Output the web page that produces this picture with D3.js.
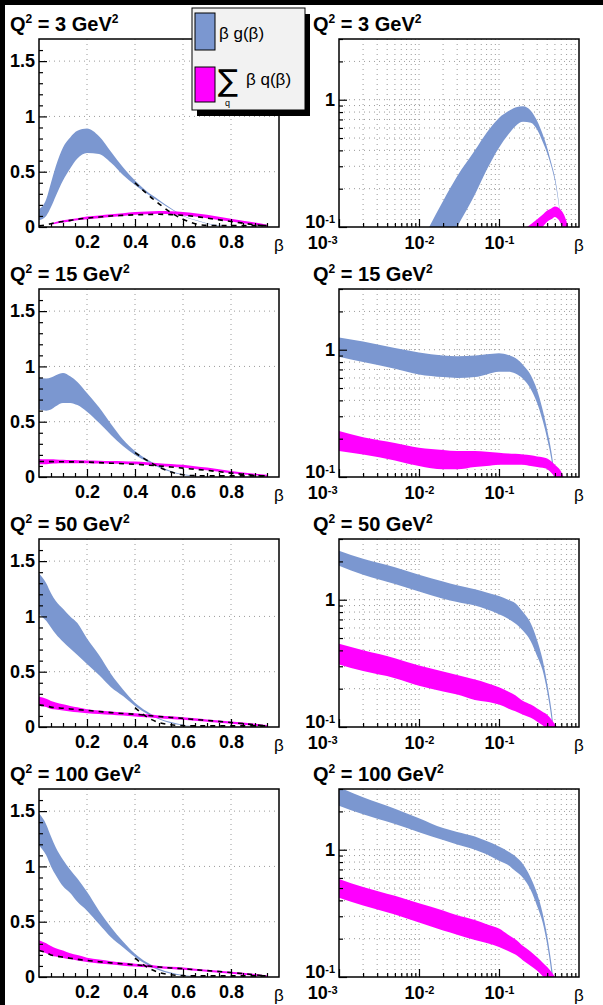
<!DOCTYPE html>
<html>
<head>
<meta charset="utf-8">
<script src="https://cdn.jsdelivr.net/npm/d3@7/dist/d3.min.js"></script>
<style>
html,body{margin:0;padding:0;background:#000;}
svg{display:block;}
</style>
</head>
<body>
<svg id="chart" width="603" height="1005"></svg>
<script>
// ---------------- DATA ----------------
const betaGrid = [0.001,0.002,0.005,0.01,0.02,0.03,0.05,0.07,0.1,0.13,0.16,0.2,0.25,0.3,0.35,0.4,0.45,0.5,0.55,0.6,0.65,0.7,0.8,0.9,0.95];
const q2Labels = ["3","15","50","100"];

const gluonLoQ3 = [null,null,null,0.02,0.06,0.10,0.18,0.28,0.42,0.53,0.62,0.67,0.66,0.58,0.47,0.38,0.30,0.23,0.16,0.10,0.06,0.03,0.005,0.001,null];
const gluonHiQ3 = [null,null,null,0.07,0.16,0.25,0.40,0.55,0.72,0.81,0.87,0.89,0.82,0.68,0.54,0.42,0.32,0.245,0.17,0.105,0.065,0.035,0.008,0.002,null];
const quarkLoQ3 = [null,null,null,null,null,null,0.02,0.03,0.04,0.05,0.06,0.07,0.08,0.09,0.10,0.11,0.115,0.12,0.115,0.105,0.095,0.08,0.05,0.02,0.005];
const quarkHiQ3 = [null,null,null,null,null,null,0.03,0.045,0.06,0.07,0.08,0.095,0.105,0.115,0.125,0.135,0.14,0.145,0.142,0.135,0.125,0.11,0.075,0.04,0.02];
const fitGluonQ3 = [null,null,null,null,null,null,null,null,null,null,null,null,null,null,null,0.40,0.30,0.21,0.13,0.07,0.03,0.015,0.012,0.012,0.012];
const fitQuarkQ3 = [null,null,null,null,0.01,0.02,0.03,0.04,0.05,0.06,0.07,0.08,0.09,0.10,0.105,0.11,0.113,0.115,0.112,0.105,0.095,0.08,0.05,0.02,0.008];

const gluonLoQ15 = [0.88,0.80,0.71,0.64,0.61,0.60,0.61,0.64,0.67,0.67,0.65,0.59,0.49,0.38,0.28,0.20,0.14,0.085,0.045,0.018,0.008,0.002,null,null,null];
const gluonHiQ15 = [1.25,1.16,1.03,0.95,0.90,0.89,0.90,0.92,0.94,0.91,0.86,0.76,0.63,0.48,0.34,0.235,0.16,0.10,0.055,0.024,0.012,0.004,null,null,null];
const quarkLoQ15 = [0.16,0.15,0.135,0.122,0.115,0.115,0.12,0.122,0.125,0.125,0.125,0.125,0.122,0.12,0.118,0.115,0.108,0.10,0.093,0.085,0.073,0.06,0.035,0.015,0.005];
const quarkHiQ15 = [0.23,0.205,0.185,0.17,0.163,0.16,0.16,0.158,0.155,0.153,0.152,0.15,0.148,0.145,0.143,0.14,0.133,0.125,0.118,0.11,0.098,0.085,0.055,0.03,0.02];
const fitGluonQ15 = [null,null,null,null,null,null,null,null,null,null,null,null,null,null,null,0.22,0.15,0.09,0.045,0.02,0.012,0.01,0.01,0.01,0.01];
const fitQuarkQ15 = [null,null,null,null,0.14,0.14,0.139,0.138,0.138,0.137,0.136,0.135,0.13,0.125,0.12,0.115,0.108,0.10,0.09,0.08,0.07,0.06,0.035,0.015,0.006];

const gluonLoQ50 = [1.85,1.57,1.33,1.16,1.02,0.96,0.90,0.84,0.77,0.71,0.65,0.57,0.47,0.36,0.28,0.19,0.12,0.07,0.035,0.015,0.006,0.002,null,null,null];
const gluonHiQ50 = [2.43,2.10,1.80,1.57,1.39,1.30,1.21,1.14,1.07,1.00,0.94,0.80,0.65,0.48,0.34,0.22,0.14,0.08,0.045,0.02,0.009,0.004,null,null,null];
const quarkLoQ50 = [0.31,0.275,0.242,0.211,0.19,0.18,0.163,0.158,0.15,0.14,0.133,0.125,0.118,0.11,0.103,0.095,0.088,0.08,0.073,0.065,0.056,0.048,0.03,0.012,0.004];
const quarkHiQ50 = [0.45,0.40,0.347,0.304,0.273,0.256,0.236,0.222,0.205,0.19,0.178,0.16,0.15,0.14,0.132,0.125,0.115,0.105,0.097,0.088,0.078,0.068,0.05,0.03,0.018];
const fitGluonQ50 = [null,null,null,null,null,null,null,null,null,null,null,null,null,null,null,0.175,0.09,0.04,0.02,0.012,0.01,0.01,0.01,0.01,0.01];
const fitQuarkQ50 = [null,null,null,null,0.2,0.19,0.18,0.175,0.17,0.163,0.157,0.15,0.14,0.13,0.122,0.115,0.105,0.095,0.086,0.078,0.068,0.06,0.04,0.02,0.008];

const gluonLoQ100 = [2.22,1.90,1.59,1.37,1.19,1.10,1.00,0.92,0.82,0.76,0.68,0.60,0.48,0.36,0.27,0.18,0.11,0.06,0.03,0.012,0.005,0.002,null,null,null];
const gluonHiQ100 = [3.1,2.58,2.10,1.77,1.48,1.38,1.27,1.17,1.06,0.97,0.89,0.77,0.60,0.45,0.32,0.21,0.13,0.075,0.04,0.018,0.008,0.004,null,null,null];
const quarkLoQ100 = [0.42,0.365,0.31,0.268,0.232,0.215,0.195,0.185,0.172,0.16,0.15,0.135,0.122,0.112,0.102,0.095,0.088,0.08,0.072,0.065,0.056,0.048,0.03,0.012,0.004];
const quarkHiQ100 = [0.59,0.51,0.434,0.38,0.333,0.305,0.28,0.26,0.24,0.215,0.198,0.175,0.158,0.143,0.13,0.12,0.11,0.10,0.092,0.085,0.075,0.066,0.048,0.028,0.016];
const fitGluonQ100 = [null,null,null,null,null,null,null,null,null,null,null,null,null,null,null,0.17,0.09,0.04,0.02,0.012,0.01,0.01,0.01,0.01,0.01];
const fitQuarkQ100 = [null,null,null,null,0.24,0.22,0.2,0.19,0.18,0.17,0.16,0.15,0.138,0.128,0.12,0.11,0.1,0.09,0.082,0.075,0.066,0.058,0.04,0.02,0.008];

const linXLabels = [0.2,0.4,0.6,0.8];
const linXMinor = [0.05,0.1,0.15,0.25,0.3,0.35,0.45,0.5,0.55,0.65,0.7,0.75,0.85,0.9,0.95];
const linYLabels = [0,0.5,1,1.5];
const linYMinor = [0.1,0.2,0.3,0.4,0.6,0.7,0.8,0.9,1.1,1.2,1.3,1.4,1.6];
const logXLabels = [0.001,0.01,0.1];
const logYLabels = [0.1,1];
const logMantissas = [2,3,4,5,6,7,8,9];
const legendLabels = ["β g(β)","β q(β)"];

// ---------------- LAYOUT ----------------
const FONT = "'Liberation Sans', Arial, Helvetica, sans-serif";
const BLUE = "#7b97d0", MAGENTA = "#ff00ff", GRID = "#9a9a9a";
const ROW0 = 39, ROWSTEP = 250, FH = 188;
const LX = [39, 279], RX = [339, 579];

const svg = d3.select("#chart");
svg.append("rect").attr("x",5).attr("y",5).attr("width",598).attr("height",1000).attr("fill","#fff");
const defs = svg.append("defs");

const panels = [
  {q2:q2Labels[0], gLo:gluonLoQ3, gHi:gluonHiQ3, qLo:quarkLoQ3, qHi:quarkHiQ3, fG:fitGluonQ3, fQ:fitQuarkQ3},
  {q2:q2Labels[1], gLo:gluonLoQ15, gHi:gluonHiQ15, qLo:quarkLoQ15, qHi:quarkHiQ15, fG:fitGluonQ15, fQ:fitQuarkQ15},
  {q2:q2Labels[2], gLo:gluonLoQ50, gHi:gluonHiQ50, qLo:quarkLoQ50, qHi:quarkHiQ50, fG:fitGluonQ50, fQ:fitQuarkQ50},
  {q2:q2Labels[3], gLo:gluonLoQ100, gHi:gluonHiQ100, qLo:quarkLoQ100, qHi:quarkHiQ100, fG:fitGluonQ100, fQ:fitQuarkQ100}
];

function title(x, y, q2) {
  const s = 20;
  const t = svg.append("text").attr("x", x).attr("y", y)
    .attr("font-family", FONT).attr("font-weight","bold").attr("font-size", s).attr("fill","#000");
  t.append("tspan").text("Q");
  t.append("tspan").attr("dy", -s*0.42).attr("font-size", s*0.6).text("2");
  t.append("tspan").attr("dy", s*0.42).text(" = " + q2 + " GeV");
  t.append("tspan").attr("dy", -s*0.42).attr("font-size", s*0.6).text("2");
}

function styleAxis(g) {
  g.attr("font-family", null).attr("font-size", null);
  g.select(".domain").remove();
  g.selectAll(".tick line").attr("stroke", "#000").attr("stroke-width", 1.2);
  g.selectAll(".tick text").attr("font-family", FONT).attr("font-weight", "bold")
    .attr("font-size", 18).attr("fill", "#000");
}

function powLabel(sel, d) {
  const e = Math.round(Math.log10(d));
  sel.text(null);
  if (e === 0) { sel.append("tspan").text("1"); return; }
  sel.append("tspan").text("10");
  sel.append("tspan").attr("dy", "-0.45em").attr("font-size", 11).text(String(e));
}

panels.forEach((p, i) => {
  const top = ROW0 + i*ROWSTEP, bottom = top + FH;
  const rows = betaGrid.map((b, k) => ({b, gLo:p.gLo[k], gHi:p.gHi[k], qLo:p.qLo[k], qHi:p.qHi[k], fG:p.fG[k], fQ:p.fQ[k]}));

  // ======== linear panel ========
  const xL = d3.scaleLinear().domain([0, 1]).range(LX);
  const yL = d3.scaleLinear().domain([0, 1.7]).range([bottom, top]);
  const gL = svg.append("g");
  defs.append("clipPath").attr("id", "clipL"+i).append("rect")
    .attr("x", LX[0]).attr("y", top).attr("width", LX[1]-LX[0]).attr("height", FH);

  gL.selectAll("line.vg").data(linXLabels).join("line").attr("class","vg")
    .attr("x1", d=>xL(d)).attr("x2", d=>xL(d)).attr("y1", top).attr("y2", bottom)
    .attr("stroke", GRID).attr("stroke-dasharray", "1,4");
  gL.selectAll("line.hg").data(linYLabels.filter(d=>d>0)).join("line").attr("class","hg")
    .attr("x1", LX[0]).attr("x2", LX[1]).attr("y1", d=>yL(d)).attr("y2", d=>yL(d))
    .attr("stroke", GRID).attr("stroke-dasharray", "1,4");

  const linRows = rows.filter(d => d.b >= 0.02);
  const firstB = linRows[0].b;
  const xPos = d => d.b === firstB ? xL(0) : xL(d.b);
  const plotL = gL.append("g").attr("clip-path", `url(#clipL${i})`);
  const bandL = (lo, hi) => d3.area().defined(d => d[lo] != null && d[hi] != null)
    .x(xPos).y0(d => yL(d[lo])).y1(d => yL(d[hi])).curve(d3.curveMonotoneX);
  const lineL = key => d3.line().defined(d => d[key] != null).x(xPos).y(d => yL(d[key])).curve(d3.curveMonotoneX);

  plotL.append("path").datum(linRows).attr("d", bandL("gLo","gHi")).attr("fill", BLUE);
  plotL.append("path").datum(linRows).attr("d", bandL("qLo","qHi")).attr("fill", MAGENTA);
  ["fQ","fG"].forEach(k => plotL.append("path").datum(linRows).attr("d", lineL(k))
    .attr("fill","none").attr("stroke","#000").attr("stroke-width",1.6).attr("stroke-dasharray","5,5"));

  // axes
  const axLxMinor = gL.append("g").attr("transform", `translate(0,${bottom})`)
    .call(d3.axisBottom(xL).tickValues(linXMinor).tickSizeInner(-4).tickSizeOuter(0).tickFormat(""));
  styleAxis(axLxMinor);
  const axLx = gL.append("g").attr("transform", `translate(0,${bottom})`)
    .call(d3.axisBottom(xL).tickValues(linXLabels).tickSizeInner(-8).tickSizeOuter(0).tickPadding(8).tickFormat(d => String(d)));
  styleAxis(axLx);
  const axLyMinor = gL.append("g").attr("transform", `translate(${LX[0]},0)`)
    .call(d3.axisLeft(yL).tickValues(linYMinor).tickSizeInner(-4).tickSizeOuter(0).tickFormat(""));
  styleAxis(axLyMinor);
  const axLy = gL.append("g").attr("transform", `translate(${LX[0]},0)`)
    .call(d3.axisLeft(yL).tickValues(linYLabels).tickSizeInner(-8).tickSizeOuter(0).tickPadding(4).tickFormat(d => String(d)));
  styleAxis(axLy);

  gL.append("rect").attr("x", LX[0]).attr("y", top).attr("width", LX[1]-LX[0]).attr("height", FH)
    .attr("fill","none").attr("stroke","#000").attr("stroke-width",1.5);
  gL.append("text").attr("x", LX[1]).attr("y", bottom + 24).attr("text-anchor","middle")
    .attr("font-family", FONT).attr("font-size", 17).text("β");
  title(10, top - 8, p.q2);

  // ======== log panel ========
  const xG = d3.scaleLog().domain([1e-3, 1]).range(RX);
  const yG = d3.scaleLog().domain([0.1, 3]).range([bottom, top]);
  const gG = svg.append("g");
  defs.append("clipPath").attr("id", "clipG"+i).append("rect")
    .attr("x", RX[0]).attr("y", top).attr("width", RX[1]-RX[0]).attr("height", FH);

  const xGrid = [];
  logXLabels.forEach(dec => logMantissas.forEach(m => xGrid.push(dec*m)));
  logXLabels.slice(1).forEach(dec => xGrid.push(dec));
  const yGrid = [];
  logMantissas.forEach(m => yGrid.push(0.1*m));
  yGrid.push(1, 2);

  gG.selectAll("line.vg").data(xGrid).join("line").attr("class","vg")
    .attr("x1", d=>xG(d)).attr("x2", d=>xG(d)).attr("y1", top).attr("y2", bottom)
    .attr("stroke", GRID).attr("stroke-dasharray", "1,4");
  gG.selectAll("line.hg").data(yGrid).join("line").attr("class","hg")
    .attr("x1", RX[0]).attr("x2", RX[1]).attr("y1", d=>yG(d)).attr("y2", d=>yG(d))
    .attr("stroke", GRID).attr("stroke-dasharray", "1,4");

  const plotG = gG.append("g").attr("clip-path", `url(#clipG${i})`);
  const safe = v => Math.max(v, 0.01);
  const bandG = (lo, hi) => d3.area().defined(d => d[lo] != null && d[hi] != null)
    .x(d => xG(d.b)).y0(d => yG(safe(d[lo]))).y1(d => yG(safe(d[hi]))).curve(d3.curveMonotoneX);
  plotG.append("path").datum(rows).attr("d", bandG("gLo","gHi")).attr("fill", BLUE);
  plotG.append("path").datum(rows).attr("d", bandG("qLo","qHi")).attr("fill", MAGENTA);

  const axGxMinor = gG.append("g").attr("transform", `translate(0,${bottom})`)
    .call(d3.axisBottom(xG).tickValues(xGrid.filter(d => !logXLabels.includes(d))).tickSizeInner(-4).tickSizeOuter(0).tickFormat(""));
  styleAxis(axGxMinor);
  const axGx = gG.append("g").attr("transform", `translate(0,${bottom})`)
    .call(d3.axisBottom(xG).tickValues(logXLabels).tickSizeInner(-8).tickSizeOuter(0).tickPadding(9).tickFormat(""));
  styleAxis(axGx);
  axGx.selectAll(".tick text").each(function(d) {
    const t = d3.select(this);
    powLabel(t, d);
    if (d === logXLabels[0]) t.attr("text-anchor", "end").attr("x", -2);
  });
  const axGyMinor = gG.append("g").attr("transform", `translate(${RX[0]},0)`)
    .call(d3.axisLeft(yG).tickValues(yGrid.filter(d => d !== 1).concat([3])).tickSizeInner(-4).tickSizeOuter(0).tickFormat(""));
  styleAxis(axGyMinor);
  const axGy = gG.append("g").attr("transform", `translate(${RX[0]},0)`)
    .call(d3.axisLeft(yG).tickValues(logYLabels).tickSizeInner(-8).tickSizeOuter(0).tickPadding(4).tickFormat(""));
  styleAxis(axGy);
  axGy.selectAll(".tick text").each(function(d) {
    const t = d3.select(this);
    powLabel(t, d);
    if (d === logYLabels[0]) t.attr("dy", "0.0em");
  });

  gG.append("rect").attr("x", RX[0]).attr("y", top).attr("width", RX[1]-RX[0]).attr("height", FH)
    .attr("fill","none").attr("stroke","#000").attr("stroke-width",1.5);
  gG.append("text").attr("x", RX[1]).attr("y", bottom + 24).attr("text-anchor","middle")
    .attr("font-family", FONT).attr("font-size", 17).text("β");
  title(313, top - 8, p.q2);
});

// ---------------- LEGEND ----------------
const lg = svg.append("g");
const LB = {x:192, y:8, w:113, h:102};
lg.append("rect").attr("x", LB.x+5).attr("y", LB.y+6).attr("width", LB.w).attr("height", LB.h).attr("fill", "#000");
lg.append("rect").attr("x", LB.x).attr("y", LB.y).attr("width", LB.w).attr("height", LB.h)
  .attr("fill", "#f2f2f2").attr("stroke", "#000").attr("stroke-width", 1);
lg.append("rect").attr("x", LB.x+3).attr("y", LB.y+5).attr("width", 20).attr("height", 37)
  .attr("fill", BLUE).attr("stroke", "#000").attr("stroke-width", 1);
lg.append("rect").attr("x", LB.x+3).attr("y", LB.y+59).attr("width", 20).attr("height", 35)
  .attr("fill", MAGENTA).attr("stroke", "#000").attr("stroke-width", 1);
lg.append("text").attr("x", LB.x+27).attr("y", LB.y+31).attr("font-family", FONT).attr("font-size", 17).text(legendLabels[0]);
lg.append("text").attr("x", LB.x+26).attr("y", LB.y+83).attr("font-family", "'DejaVu Sans', sans-serif").attr("font-size", 30).text("∑");
lg.append("text").attr("x", LB.x+33).attr("y", LB.y+98).attr("font-family", FONT).attr("font-size", 9).text("q");
lg.append("text").attr("x", LB.x+54).attr("y", LB.y+77).attr("font-family", FONT).attr("font-size", 17).text(legendLabels[1]);
</script>
</body>
</html>
